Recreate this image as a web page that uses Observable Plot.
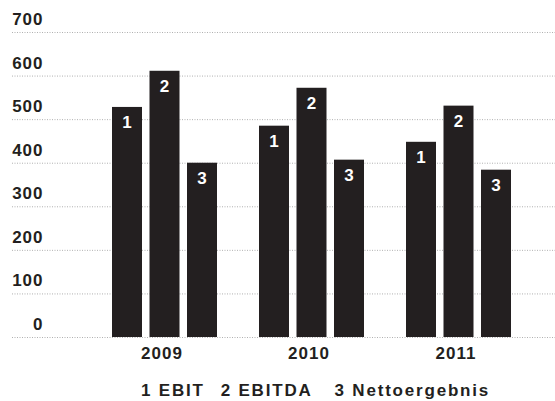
<!DOCTYPE html>
<html>
<head>
<meta charset="utf-8">
<script src="https://cdn.jsdelivr.net/npm/d3@7"></script>
<script src="https://cdn.jsdelivr.net/npm/@observablehq/plot@0.6"></script>
<style>
  html, body { margin: 0; padding: 0; background: #fff; }
  #wrap { position: relative; width: 555px; height: 401px; overflow: hidden; font-family: "Liberation Sans", Arial, sans-serif; color: #231f20; }
  #legend { position: absolute; top: 381px; left: 141px; white-space: nowrap; font-size: 17px; font-weight: bold; letter-spacing: 1.8px; line-height: 19.5px; }
  #legend span { display: inline-block; }
</style>
</head>
<body>
<div id="wrap">
  <div id="chart"></div>
  <div id="legend"></div>
</div>
<script>
const years = ["2009", "2010", "2011"];
const seriesNames = ["EBIT", "EBITDA", "Nettoergebnis"];
const ebit = [528, 485, 448];
const ebitda = [611, 572, 531];
const netto = [400, 407, 384];
const yTicks = [0, 100, 200, 300, 400, 500, 600, 700];

const seriesValues = [ebit, ebitda, netto];
const data = years.flatMap((yr, j) => seriesNames.map((s, i) => ({
  year: yr, series: s, idx: i + 1, value: seriesValues[i][j]
})));

const ink = "#231f20";
const barMarks = seriesNames.map((s, i) => Plot.barY(data.filter(d => d.idx === i + 1), {
  x: "year", y: "value", fill: ink,
  insetLeft: i * 37.5, insetRight: (2 - i) * 37.5
}));
const labelMarks = seriesNames.map((s, i) => Plot.text(data.filter(d => d.idx === i + 1), {
  x: "year", y: "value", text: d => String(d.idx),
  dx: (i - 1) * 37.5, dy: 15, fill: "white", fontSize: 17, fontWeight: "bold"
}));

const chart = Plot.plot({
  width: 555,
  height: 370,
  marginLeft: 12,
  marginRight: 0,
  marginTop: 32,
  marginBottom: 33,
  style: { fontFamily: "'Liberation Sans', Arial, sans-serif", color: ink, background: "#fff", letterSpacing: "1px" },
  x: { domain: years, range: [91, 532], paddingInner: 42 / 147, paddingOuter: 21 / 147 },
  y: { domain: [0, 700] },
  marks: [
    Plot.ruleY(yTicks, { stroke: "#b0b0b0", strokeDasharray: "1 1.5" }),
    ...barMarks,
    ...labelMarks,
    Plot.axisY({ ticks: yTicks, tickSize: 0, tickPadding: 0, dx: 31, dy: -13, fontSize: 17, fontWeight: "bold", fill: ink, label: null }),
    Plot.axisX({ tickSize: 0, tickPadding: 9, dx: -3, fontSize: 17, fontWeight: "bold", fill: ink, label: null })
  ]
});
document.getElementById("chart").appendChild(chart);

const legend = document.getElementById("legend");
const gaps = [16, 22, 0];
seriesNames.forEach((s, i) => {
  const sp = document.createElement("span");
  sp.textContent = (i + 1) + " " + s;
  sp.style.marginRight = gaps[i] + "px";
  legend.appendChild(sp);
});
</script>
</body>
</html>
